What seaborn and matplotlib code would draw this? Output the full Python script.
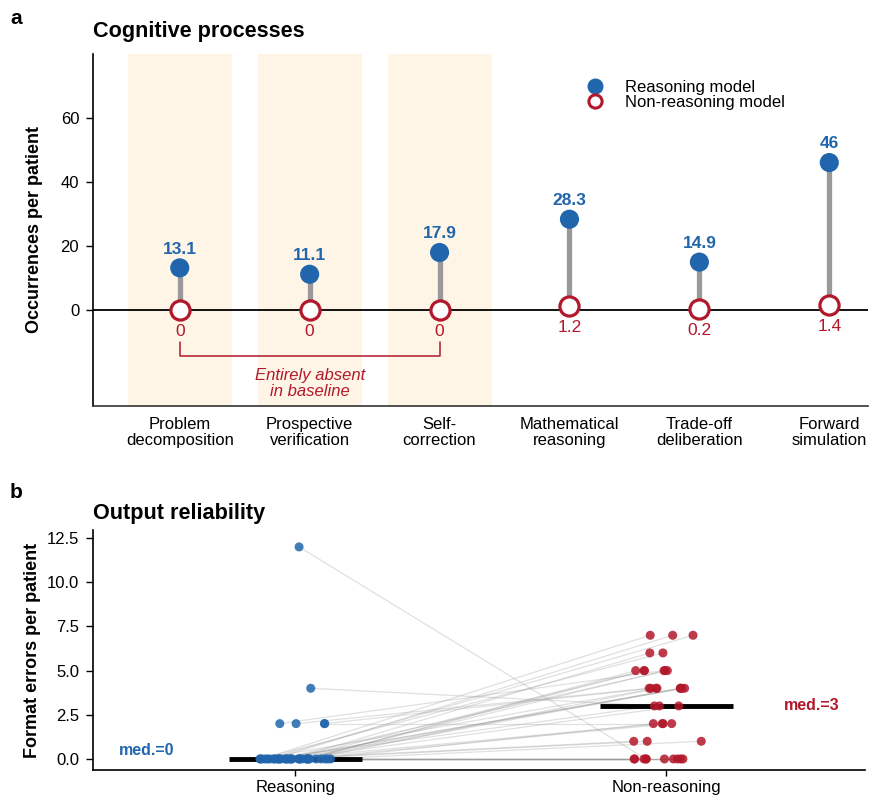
import numpy as np
import pandas as pd
import matplotlib
matplotlib.use("Agg")
import matplotlib.pyplot as plt
from matplotlib.lines import Line2D
import seaborn as sns

# ---------------- data ----------------
processes = ["Problem\ndecomposition", "Prospective\nverification", "Self-\ncorrection",
             "Mathematical\nreasoning", "Trade-off\ndeliberation", "Forward\nsimulation"]
reasoning_occ = [13.1, 11.1, 17.9, 28.3, 14.9, 46]
nonreasoning_occ = [0, 0, 0, 1.2, 0.2, 1.4]
absent_idx = [0, 1, 2]

groups = ["Reasoning", "Non-reasoning"]
reasoning_err = [12, 4, 2, 2, 2, 2] + [0] * 33
nonreasoning_err = ([0, 3, 5, 4, 4, 2] +
                    [7, 7, 7, 6, 6, 5, 5, 5, 5, 5, 4, 4, 4, 4, 4, 4, 3, 3,
                     2, 2, 2, 1, 1, 1, 0, 0, 0, 0, 0, 0, 0, 0, 0])

BLUE = "#2166ac"
RED = "#b2182b"
SHADE = "#fef5e6"

sns.set_theme(style="ticks")
plt.rcParams["font.family"] = ["Liberation Sans", "DejaVu Sans"]
plt.rcParams["axes.linewidth"] = 1.2
for k in ["text.color", "axes.labelcolor", "xtick.color", "ytick.color", "axes.edgecolor"]:
    plt.rcParams[k] = "black"

fig = plt.figure(figsize=(8.7, 8.02), dpi=100)
ax1 = fig.add_axes([0.107, 0.494, 0.891, 0.439])
ax2 = fig.add_axes([0.107, 0.040, 0.887, 0.299])

# ---------------- panel a ----------------
dfa = pd.DataFrame({"process": processes, "reasoning": reasoning_occ,
                    "nonreasoning": nonreasoning_occ})
xs = np.arange(len(processes))
for i in absent_idx:
    ax1.axvspan(i - 0.4, i + 0.4, color=SHADE, zorder=0, lw=0)
ax1.axhline(0, color="black", lw=1.3, zorder=1)
ax1.vlines(xs, dfa["nonreasoning"], dfa["reasoning"], color="#999999", lw=3.8, zorder=2)
sns.scatterplot(data=dfa, x="process", y="reasoning", ax=ax1, s=190, color=BLUE,
                edgecolor="none", zorder=3, legend=False)
sns.scatterplot(data=dfa, x="process", y="nonreasoning", ax=ax1, s=190, facecolor="white",
                edgecolor=RED, linewidth=2.3, zorder=4, legend=False)
for i, (r, n) in enumerate(zip(reasoning_occ, nonreasoning_occ)):
    ax1.annotate(f"{r:g}", (i, r), xytext=(0, 8), textcoords="offset points",
                 ha="center", va="bottom", color=BLUE, fontsize=12.5, fontweight="bold")
    ax1.annotate(f"{n:g}", (i, n), xytext=(0, -10), textcoords="offset points",
                 ha="center", va="top", color=RED, fontsize=12.5)
# bracket
ax1.plot([absent_idx[0], absent_idx[0], absent_idx[-1], absent_idx[-1]],
         [-10, -14.4, -14.4, -10], color=RED, lw=1.1, zorder=2)
ax1.text(np.mean([absent_idx[0], absent_idx[-1]]), -23, "Entirely absent\nin baseline",
         ha="center", va="center", color=RED, fontsize=12, style="italic", linespacing=1.1)

ax1.set_xlim(-0.667, 5.3)
ax1.set_ylim(-30, 80)
ax1.set_yticks([0, 20, 40, 60])
ax1.set_xticks(xs)
ax1.set_xticklabels(processes, fontsize=12, linespacing=1.1)
ax1.tick_params(axis="x", length=0, pad=8)
ax1.tick_params(axis="y", labelsize=12, length=5, width=1, pad=5)
ax1.set_xlabel("")
ax1.set_ylabel("Occurrences per patient", fontsize=13, fontweight="bold")
ax1.yaxis.set_label_coords(-0.064, 0.5)
for s in ["top", "right"]:
    ax1.spines[s].set_visible(False)
ax1.spines["bottom"].set_color("#333333")

handles = [Line2D([], [], marker="o", ls="", color=BLUE, markersize=10.5, label="Reasoning model"),
           Line2D([], [], marker="o", ls="", markerfacecolor="white", markeredgecolor=RED,
                  markeredgewidth=2.2, markersize=9.5, label="Non-reasoning model")]
ax1.legend(handles=handles, loc="upper left", bbox_to_anchor=(0.618, 0.945), frameon=False,
           fontsize=12, handletextpad=0.8, labelspacing=0.0, borderaxespad=0)

# ---------------- panel b ----------------
dfb = pd.DataFrame({"model": [groups[0]] * len(reasoning_err) + [groups[1]] * len(nonreasoning_err),
                    "errors": reasoning_err + nonreasoning_err})
np.random.seed(3)
sns.stripplot(data=dfb, x="model", y="errors", hue="model", order=groups,
              palette={groups[0]: BLUE, groups[1]: RED}, jitter=0.1, size=6.5,
              alpha=0.85, linewidth=0, ax=ax2, legend=False, zorder=4)
pos = {}
for coll in ax2.collections:
    off = coll.get_offsets()
    if len(off) == 0:
        continue
    k = int(round(np.mean(off[:, 0])))
    pos[k] = np.asarray(off)
for (xa, ya), (xb, yb) in zip(pos[0], pos[1]):
    ax2.plot([xa, xb], [ya, yb], color="#999999", alpha=0.3, lw=0.9, zorder=1)
meds = [np.median(reasoning_err), np.median(nonreasoning_err)]
for i, m in enumerate(meds):
    ax2.hlines(m, i - 0.18, i + 0.18, color="black", lw=3.5, zorder=3)
ax2.text(-0.4, meds[0] + 0.5, f"med.={meds[0]:g}", color=BLUE, fontsize=11.5,
         fontweight="bold", ha="center", va="center")
ax2.text(1.393, meds[1], f"med.={meds[1]:g}", color=RED, fontsize=11.5,
         fontweight="bold", ha="center", va="center")

ax2.set_xlim(-0.545, 1.535)
ax2.set_ylim(-0.62, 12.95)
ax2.set_yticks([0, 2.5, 5, 7.5, 10, 12.5])
ax2.set_yticklabels(["0.0", "2.5", "5.0", "7.5", "10.0", "12.5"])
ax2.tick_params(axis="y", labelsize=12, length=5, width=1, pad=5)
ax2.tick_params(axis="x", labelsize=12, length=4, width=1)
ax2.set_xlabel("")
ax2.set_ylabel("Format errors per patient", fontsize=13, fontweight="bold")
ax2.yaxis.set_label_coords(-0.067, 0.5)
for s in ["top", "right"]:
    ax2.spines[s].set_visible(False)

# ---------------- titles ----------------
fig.text(10 / 870, 1 - 18 / 802, "a", fontsize=15, fontweight="bold", va="center")
fig.text(93 / 870, 1 - 32 / 802, "Cognitive processes", fontsize=15.6, fontweight="bold", va="center")
fig.text(10 / 870, 1 - 493 / 802, "b", fontsize=15, fontweight="bold", va="center")
fig.text(93 / 870, 1 - 513 / 802, "Output reliability", fontsize=15.6, fontweight="bold", va="center")

fig.savefig("out.png", dpi=100)
